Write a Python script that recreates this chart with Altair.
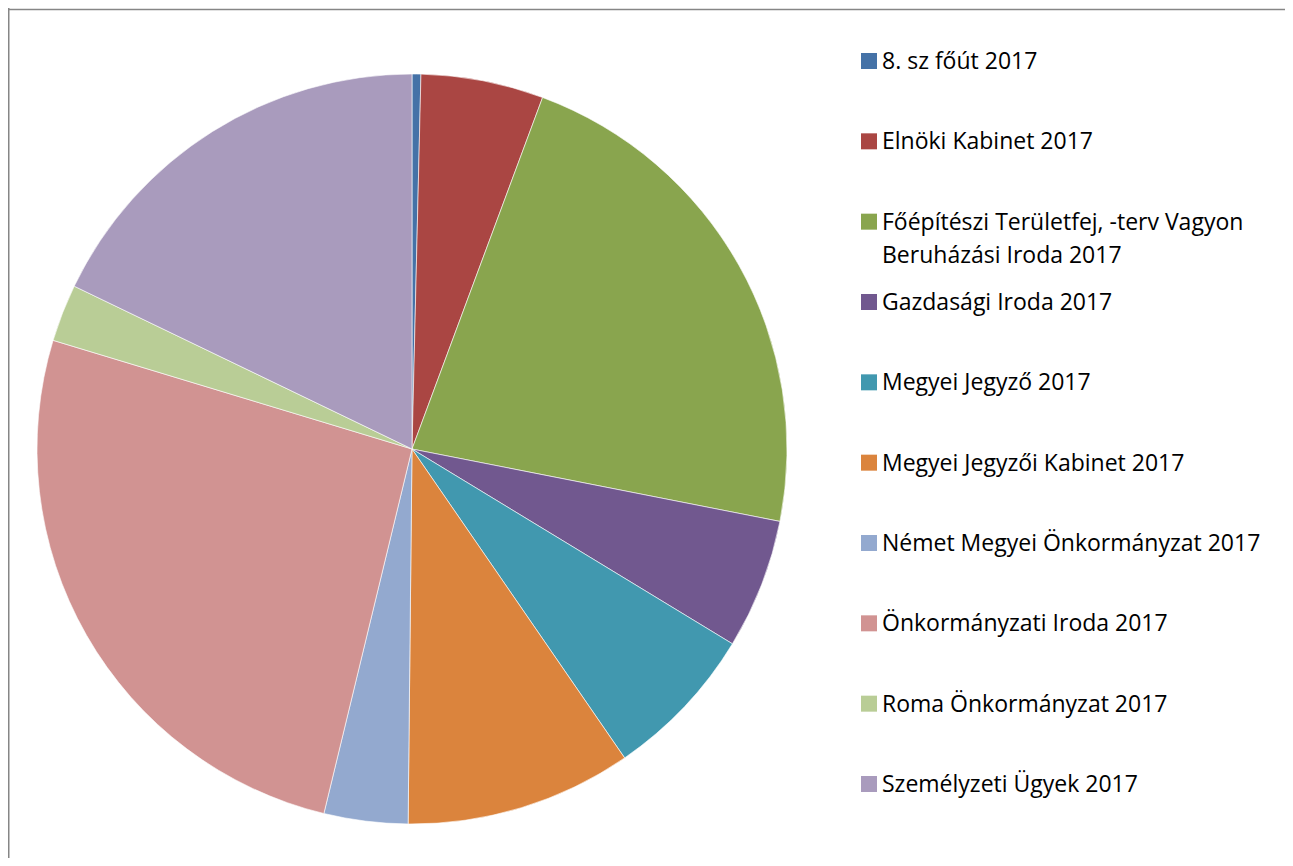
import altair as alt
import pandas as pd

categories = [
    "8. sz főút 2017",
    "Elnöki Kabinet 2017",
    "Főépítészi Területfej, -terv Vagyon Beruházási Iroda 2017",
    "Gazdasági Iroda 2017",
    "Megyei Jegyző 2017",
    "Megyei Jegyzői Kabinet 2017",
    "Német Megyei Önkormányzat 2017",
    "Önkormányzati Iroda 2017",
    "Roma Önkormányzat 2017",
    "Személyzeti Ügyek 2017",
]
legend_labels = [
    "8. sz főút 2017",
    "Elnöki Kabinet 2017",
    "Főépítészi Területfej, -terv Vagyon\nBeruházási Iroda 2017",
    "Gazdasági Iroda 2017",
    "Megyei Jegyző 2017",
    "Megyei Jegyzői Kabinet 2017",
    "Német Megyei Önkormányzat 2017",
    "Önkormányzati Iroda 2017",
    "Roma Önkormányzat 2017",
    "Személyzeti Ügyek 2017",
]
values = [0.38, 5.28, 22.43, 5.60, 6.71, 9.76, 3.61, 25.90, 2.47, 17.85]
colors = ["#4572A7", "#AA4643", "#89A54E", "#71588F", "#4198AF",
          "#DB843D", "#93A9CF", "#D19392", "#B9CD96", "#A99BBD"]

df = pd.DataFrame({
    "cat": categories,
    "val": values,
    "order": list(range(len(categories))),
    "label": legend_labels,
})

W, H = 1277, 850
FONT = "Open Sans"

color = alt.Color("cat:N", scale=alt.Scale(domain=categories, range=colors), legend=None)

pie = alt.Chart(df).mark_arc(radius=375, stroke="white", strokeWidth=0.6).encode(
    theta=alt.Theta("val:Q", stack=True),
    order=alt.Order("order:Q"),
    color=color,
    x=alt.value(404),
    y=alt.value(441),
)

ysc = alt.Y(
    "cat:N",
    scale=alt.Scale(type="point", domain=categories, range=[53, 776], padding=0),
    axis=None,
)

sym = alt.Chart(df).mark_square(size=256, opacity=1, filled=True).encode(
    x=alt.value(861), y=ysc, color=color
)

txt = alt.Chart(df).mark_text(
    align="left", baseline="alphabetic", dy=8, font=FONT, fontSize=23,
    lineBreak="\n", lineHeight=33, color="#000000"
).encode(x=alt.value(874), y=ysc, text="label:N")

frame_data = alt.Data(values=[{"k": 1}])
top = alt.Chart(frame_data).mark_rule(color="#868686", strokeWidth=1.5).encode(
    x=alt.value(0), x2=alt.value(W), y=alt.value(1.5)
)
left = alt.Chart(frame_data).mark_rule(color="#868686", strokeWidth=1.5).encode(
    x=alt.value(0.75), y=alt.value(0), y2=alt.value(H)
)

chart = alt.layer(pie, sym, txt, top, left).properties(
    width=W, height=H, padding=0, autosize="none"
).configure_view(stroke=None)

chart.save("out.html", embed_options={"renderer": "svg", "actions": False})
